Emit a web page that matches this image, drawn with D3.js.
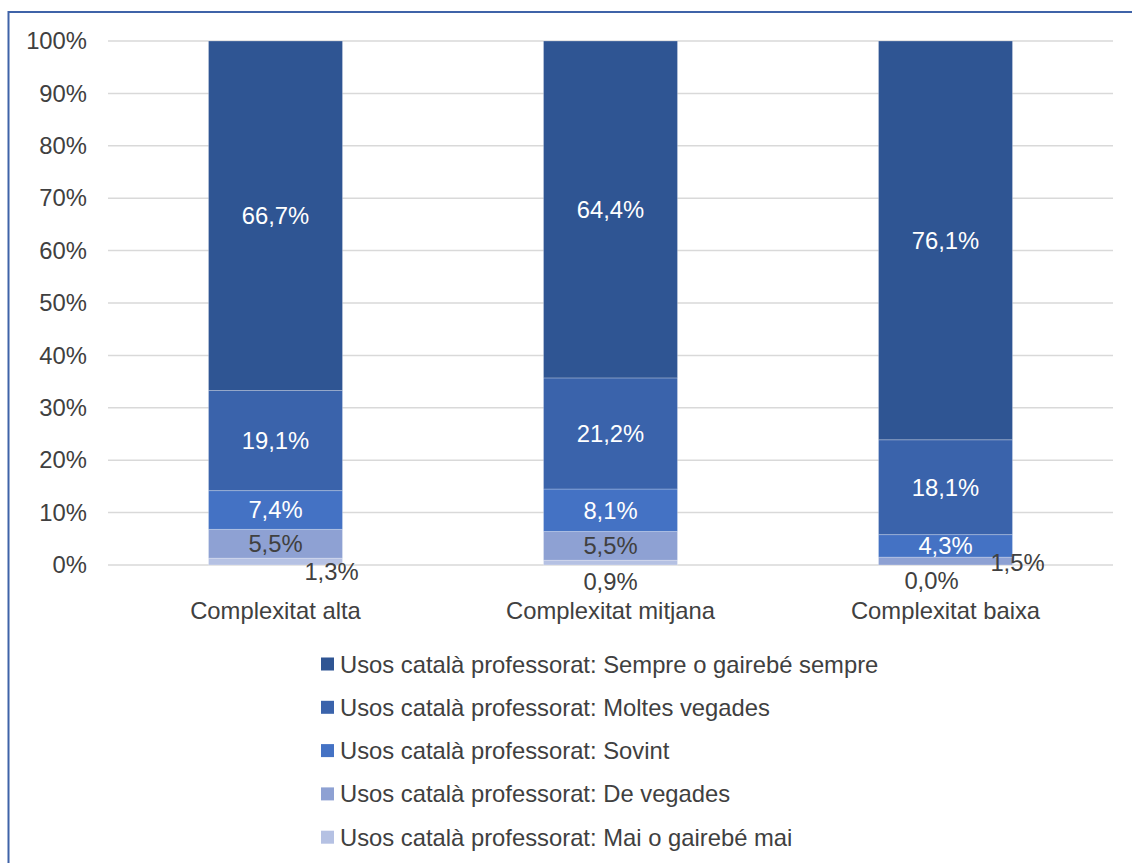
<!DOCTYPE html>
<html>
<head>
<meta charset="utf-8">
<script src="https://cdn.jsdelivr.net/npm/d3@7"></script>
<style>
html,body{margin:0;padding:0;background:#fff;}
svg{display:block;font-family:"Liberation Sans",Arial,sans-serif;}
</style>
</head>
<body>
<svg id="chart" width="1132" height="863"></svg>
<script>
const categories = ["Complexitat alta", "Complexitat mitjana", "Complexitat baixa"];
const seriesNames = [
  "Usos català professorat: Mai o gairebé mai",
  "Usos català professorat: De vegades",
  "Usos català professorat: Sovint",
  "Usos català professorat: Moltes vegades",
  "Usos català professorat: Sempre o gairebé sempre"
];
const maiValues     = [1.3, 0.9, 0.0];
const deVegValues   = [5.5, 5.5, 1.5];
const sovintValues  = [7.4, 8.1, 4.3];
const moltesValues  = [19.1, 21.2, 18.1];
const sempreValues  = [66.7, 64.4, 76.1];
const yTicks = [0, 10, 20, 30, 40, 50, 60, 70, 80, 90, 100];

const seriesValues = [maiValues, deVegValues, sovintValues, moltesValues, sempreValues];
const colors = ["#B5C1E3", "#8EA1D3", "#4472C4", "#3A63AB", "#2F5593"];
const labelColors = ["#404040", "#404040", "#ffffff", "#ffffff", "#ffffff"];
const FS = 23.8;

const svg = d3.select("#chart");

// outer border
svg.append("rect").attr("x", 8.5).attr("y", 12).attr("width", 1140).attr("height", 900)
  .attr("fill", "none").attr("stroke", "#3F63A8").attr("stroke-width", 2);

const plot = {left: 108, right: 1113, top: 41, bottom: 565};
const x = d3.scaleBand().domain(categories).range([plot.left, plot.right])
  .paddingInner(0.6).paddingOuter(0.3);
const y = d3.scaleLinear().domain([0, 100]).range([plot.bottom, plot.top]);

// gridlines
svg.append("g").selectAll("line").data(yTicks).join("line")
  .attr("x1", plot.left).attr("x2", plot.right)
  .attr("y1", d => y(d)).attr("y2", d => y(d))
  .attr("stroke", "#D9D9D9").attr("stroke-width", 1.5);

// y axis labels
const yAxis = d3.axisLeft(y).tickValues(yTicks).tickSize(0).tickPadding(0)
  .tickFormat(d => d + "%");
const yg = svg.append("g").attr("transform", `translate(${plot.left - 21},0)`).call(yAxis);
yg.select(".domain").remove();
yg.selectAll("text").attr("font-size", FS).attr("fill", "#404040")
  .attr("font-family", "'Liberation Sans', Arial, sans-serif");

// stacked data
const rows = categories.map((c, i) => {
  const r = {cat: c};
  seriesNames.forEach((s, j) => r[s] = seriesValues[j][i]);
  return r;
});
const stack = d3.stack().keys(seriesNames)(rows);

const gBars = svg.append("g");
stack.forEach((layer, j) => {
  gBars.selectAll(null).data(layer).join("rect")
    .attr("x", d => x(d.data.cat))
    .attr("width", x.bandwidth())
    .attr("y", d => y(Math.min(d[1], 100)))
    .attr("height", d => Math.max(0, y(d[0]) - y(Math.min(d[1], 100))))
    .attr("fill", colors[j])
    .attr("stroke", "rgba(255,255,255,0.25)").attr("stroke-width", 1);
});

// labels (small segments are pushed outside like in the original)
const fmt = v => v.toFixed(1).replace(".", ",") + "%";
const offsets = {
  "0|0": [56, 6],
  "0|1": [0, 16],
  "0|2": [-14, 15],
  "1|2": [72, 0]
};
stack.forEach((layer, j) => {
  layer.forEach((d, i) => {
    const key = j + "|" + i;
    let cx = x(d.data.cat) + x.bandwidth() / 2;
    let cy = y((d[0] + Math.min(d[1], 100)) / 2);
    let col = labelColors[j];
    if (offsets[key]) {
      cx += offsets[key][0];
      cy = y(0) + offsets[key][1];
      if (j === 1 && i === 2) { cy = y(0) - 3; }
      col = "#404040";
    }
    svg.append("text").attr("x", cx).attr("y", cy)
      .attr("text-anchor", "middle").attr("dominant-baseline", "central")
      .attr("font-size", FS).attr("fill", col).text(fmt(d.data[seriesNames[j]]));
  });
});

// category labels
categories.forEach(c => {
  svg.append("text").attr("x", x(c) + x.bandwidth() / 2).attr("y", 610)
    .attr("text-anchor", "middle").attr("dominant-baseline", "central")
    .attr("font-size", FS).attr("fill", "#404040").text(c);
});

// legend (reverse order: Sempre first)
const legendOrder = d3.range(seriesNames.length).reverse();
const lg = svg.append("g");
legendOrder.forEach((j, k) => {
  const ly = 664 + k * 43.3;
  lg.append("rect").attr("x", 321).attr("y", ly - 6.5).attr("width", 13).attr("height", 13)
    .attr("fill", colors[j]);
  lg.append("text").attr("x", 340).attr("y", ly).attr("dominant-baseline", "central")
    .attr("font-size", FS).attr("fill", "#404040").text(seriesNames[j]);
});
</script>
</body>
</html>
